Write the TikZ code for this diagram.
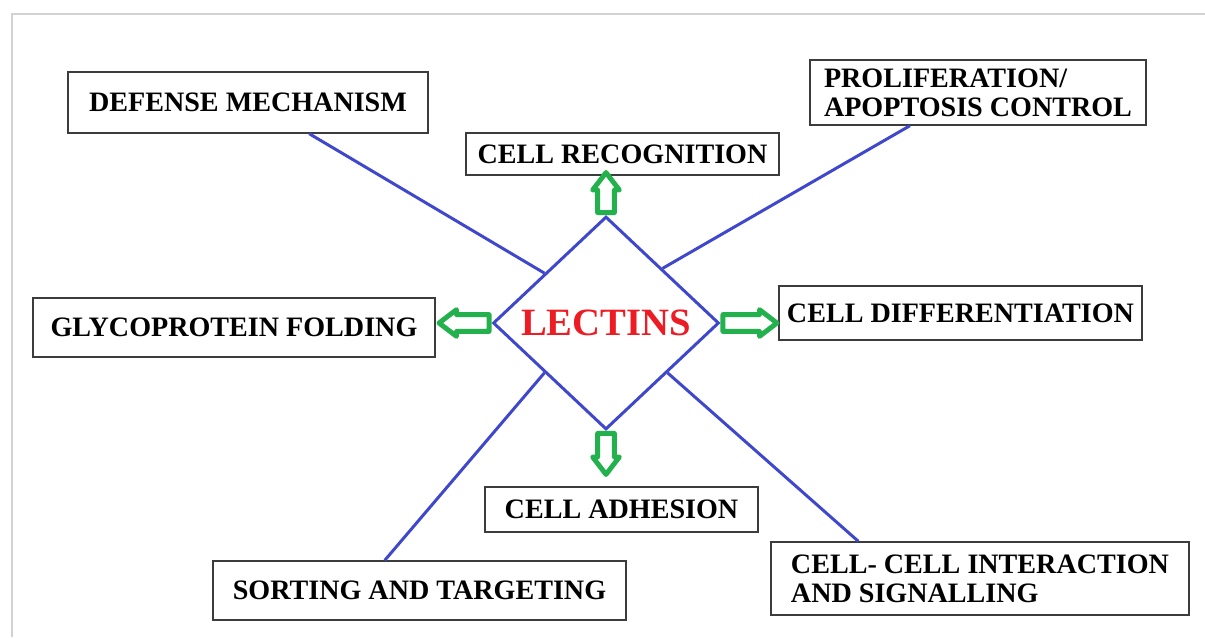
\documentclass[tikz,border=0pt]{standalone}
\usepackage{fontspec}
\setmainfont{Liberation Serif}
\usetikzlibrary{shapes.geometric,shapes.arrows,calc}
\definecolor{indigo}{RGB}{63,72,204}
\definecolor{paintgreen}{RGB}{34,177,76}
\definecolor{paintred}{RGB}{237,28,36}
\definecolor{boxgray}{RGB}{60,60,60}

\begin{document}
\begin{tikzpicture}[x=0.02cm, y=-0.02cm,
    role/.style={rectangle, draw=boxgray, thick, fill=white, inner sep=0pt, align=center, font=\fontsize{16}{16.5}\selectfont\bfseries},
    core/.style={diamond, draw=indigo, line width=1.7pt, inner sep=0pt, minimum width=4.52cm, minimum height=4.26cm, text=paintred, font=\fontsize{22}{24}\selectfont\bfseries},
    link/.style={draw=indigo, line width=1.7pt},
    blockarrow/.style={single arrow, draw=paintgreen, fill=white, line width=2.8pt, line join=round, inner sep=3.4pt, single arrow head extend=2.8pt, single arrow tip angle=75, anchor=tail}]

\useasboundingbox (0,0) rectangle (1205,637);
\draw [gray!35, line width=1pt] (12,637) -- (12,14) -- (1205,14);

\node [core] (lectins) at (606,323) {LECTINS};

\node [role, minimum width=7.2cm, minimum height=1.22cm] (defense) at (248,102.5) {DEFENSE MECHANISM};
\node [role, align=left, minimum width=6.72cm, minimum height=1.3cm] (prolif) at (978,92.5) {PROLIFERATION/\\APOPTOSIS CONTROL};
\node [role, minimum width=6.26cm, minimum height=0.84cm] (recog) at (622.5,154) {CELL RECOGNITION};
\node [role, minimum width=8.04cm, minimum height=1.18cm] (glyco) at (234,327.5) {GLYCOPROTEIN FOLDING};
\node [role, minimum width=7.26cm, minimum height=1.08cm] (diff) at (960.5,313) {CELL DIFFERENTIATION};
\node [role, minimum width=5.46cm, minimum height=0.9cm] (adhesion) at (621.5,509.5) {CELL ADHESION};
\node [role, minimum width=8.26cm, minimum height=1.18cm] (sorting) at (419.5,590.5) {SORTING AND TARGETING};
\node [role, align=left, minimum width=8.36cm, minimum height=1.46cm] (cellcell) at (980,578.5) {CELL- CELL INTERACTION\\AND SIGNALLING};

% plain links to the corner boxes
\draw [link] (defense.-27) -- (lectins.141);
\draw [link] (prolif.206) -- (lectins.44);
\draw [link] (sorting.139) -- (lectins.219);
\draw [link] (cellcell.163) -- (lectins.321);

% hollow green arrows
\node [blockarrow, shape border rotate=90, minimum height=0.8cm] (toRecog) at (lectins.north) {};
\node [blockarrow, shape border rotate=0, minimum height=1.08cm] (toDiff) at (lectins.east) {};
\node [blockarrow, shape border rotate=180, minimum height=1.0cm] (toGlyco) at (lectins.west) {};
\node [blockarrow, shape border rotate=270, minimum height=0.82cm] (toAdhesion) at (lectins.south) {};

\end{tikzpicture}
\end{document}
